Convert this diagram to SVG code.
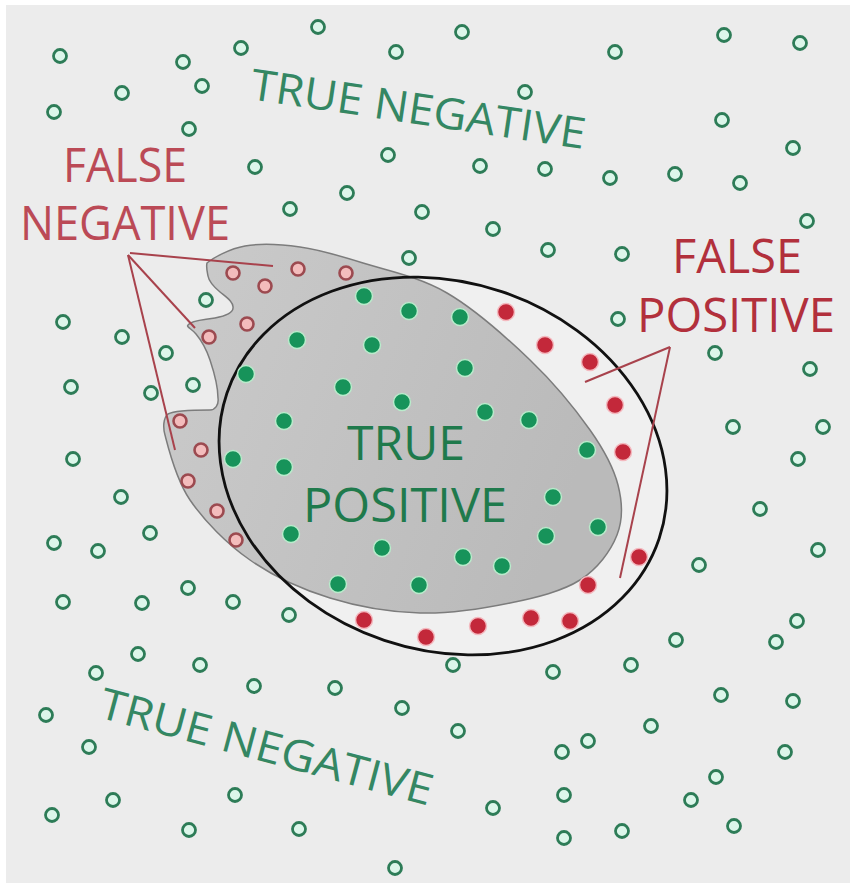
<svg xmlns="http://www.w3.org/2000/svg" width="850" height="886" viewBox="0 0 850 886">
<style>
.tn{fill:#dcf6ea;stroke:#2d7c57;stroke-width:2.8}
.fn{fill:#f3bcbc;stroke:#9c4a50;stroke-width:2.6}
.tp{fill:#17935a;stroke:#b9ebcb;stroke-width:1.5}
.fp{fill:#c3283a;stroke:#f4b9bf;stroke-width:1.5}
.lab{font-family:"Open Sans","Liberation Sans",sans-serif;font-size:47px}
.ptr{stroke:#a8424c;stroke-width:2;fill:none}
</style>
<defs>
<linearGradient id="blobg" x1="0" y1="0" x2="1" y2="0.3">
<stop offset="0" stop-color="#cbcbcb"/>
<stop offset="1" stop-color="#bababa"/>
</linearGradient>
</defs>
<rect x="0" y="0" width="850" height="886" fill="#ffffff"/>
<rect x="6" y="5" width="844" height="878" fill="#ececec"/>
<g id="ellipse-fill">
<ellipse cx="443" cy="466" rx="228" ry="184" transform="rotate(18.6 443 466)" fill="#f0f0f0"/>
</g>
<g id="blob">
<path d="M207,263 C213,258 229.5,248.7 245,246 C260.5,243.3 280.3,244.2 300,247 C319.7,249.8 338.5,255.3 363,263 C387.5,270.7 419.2,276.8 447,293 C474.8,309.2 506.2,337.2 530,360 C553.8,382.8 575.3,409.2 590,430 C604.7,450.8 613.5,467.5 618,485 C622.5,502.5 623.3,519.2 617,535 C610.8,550.8 597.8,568.7 580,580 C562.2,591.3 536.7,597.5 510,603 C483.3,608.5 450,613.8 420,613 C390,612.2 358.3,606.8 330,598 C301.7,589.2 273.3,576.3 250,560 C226.7,543.7 204.2,520.8 190,500 C175.8,479.2 168.7,449.3 165,435 C163,428 163,418 168,414 C175,410 195,410 210,410 C215,410 219,405 218,398 C218,385 214,372 210,360 C206,348 201,340 196,334 C192,329 186,327 188,325 C192,320 205,320 215,318 C225,316 233,313 233,308 C234,302 226,297 220,292 C214,287 209,282 208,276 C207,271 206,267 207,263 Z" fill="url(#blobg)" stroke="#7c7c7c" stroke-width="1.5"/>
</g>
<g id="ellipse">
<ellipse cx="443" cy="466" rx="228" ry="184" transform="rotate(18.6 443 466)" fill="none" stroke="#111111" stroke-width="2.8"/>
</g>
<g id="true-negatives">
<circle class="tn" cx="60" cy="56" r="6.5"/><circle class="tn" cx="122" cy="93" r="6.5"/><circle class="tn" cx="54" cy="112" r="6.5"/><circle class="tn" cx="183" cy="62" r="6.5"/><circle class="tn" cx="202" cy="86" r="6.5"/><circle class="tn" cx="189" cy="129" r="6.5"/><circle class="tn" cx="241" cy="48" r="6.5"/><circle class="tn" cx="318" cy="27" r="6.5"/><circle class="tn" cx="396" cy="52" r="6.5"/><circle class="tn" cx="462" cy="32" r="6.5"/><circle class="tn" cx="525" cy="92" r="6.5"/><circle class="tn" cx="615" cy="52" r="6.5"/><circle class="tn" cx="724" cy="35" r="6.5"/><circle class="tn" cx="800" cy="43" r="6.5"/><circle class="tn" cx="388" cy="155" r="6.5"/><circle class="tn" cx="255" cy="167" r="6.5"/><circle class="tn" cx="347" cy="193" r="6.5"/><circle class="tn" cx="290" cy="209" r="6.5"/><circle class="tn" cx="422" cy="212" r="6.5"/><circle class="tn" cx="409" cy="258" r="6.5"/><circle class="tn" cx="722" cy="120" r="6.5"/><circle class="tn" cx="793" cy="148" r="6.5"/><circle class="tn" cx="480" cy="166" r="6.5"/><circle class="tn" cx="545" cy="169" r="6.5"/><circle class="tn" cx="610" cy="178" r="6.5"/><circle class="tn" cx="675" cy="174" r="6.5"/><circle class="tn" cx="740" cy="183" r="6.5"/><circle class="tn" cx="807" cy="221" r="6.5"/><circle class="tn" cx="493" cy="229" r="6.5"/><circle class="tn" cx="548" cy="250" r="6.5"/><circle class="tn" cx="622" cy="254" r="6.5"/><circle class="tn" cx="618" cy="319" r="6.5"/><circle class="tn" cx="715" cy="353" r="6.5"/><circle class="tn" cx="810" cy="369" r="6.5"/><circle class="tn" cx="733" cy="427" r="6.5"/><circle class="tn" cx="823" cy="427" r="6.5"/><circle class="tn" cx="798" cy="459" r="6.5"/><circle class="tn" cx="760" cy="509" r="6.5"/><circle class="tn" cx="818" cy="550" r="6.5"/><circle class="tn" cx="699" cy="565" r="6.5"/>
<circle class="tn" cx="206" cy="300" r="6.5"/><circle class="tn" cx="63" cy="322" r="6.5"/><circle class="tn" cx="122" cy="337" r="6.5"/><circle class="tn" cx="166" cy="353" r="6.5"/><circle class="tn" cx="71" cy="387" r="6.5"/><circle class="tn" cx="151" cy="393" r="6.5"/><circle class="tn" cx="193" cy="385" r="6.5"/><circle class="tn" cx="73" cy="459" r="6.5"/><circle class="tn" cx="121" cy="497" r="6.5"/><circle class="tn" cx="150" cy="533" r="6.5"/><circle class="tn" cx="54" cy="543" r="6.5"/><circle class="tn" cx="98" cy="551" r="6.5"/>
<circle class="tn" cx="63" cy="602" r="6.5"/><circle class="tn" cx="142" cy="603" r="6.5"/><circle class="tn" cx="188" cy="588" r="6.5"/><circle class="tn" cx="233" cy="602" r="6.5"/><circle class="tn" cx="289" cy="615" r="6.5"/><circle class="tn" cx="138" cy="654" r="6.5"/><circle class="tn" cx="96" cy="673" r="6.5"/><circle class="tn" cx="200" cy="665" r="6.5"/><circle class="tn" cx="254" cy="686" r="6.5"/><circle class="tn" cx="335" cy="688" r="6.5"/><circle class="tn" cx="402" cy="708" r="6.5"/><circle class="tn" cx="46" cy="715" r="6.5"/><circle class="tn" cx="89" cy="747" r="6.5"/><circle class="tn" cx="235" cy="795" r="6.5"/><circle class="tn" cx="113" cy="800" r="6.5"/><circle class="tn" cx="52" cy="815" r="6.5"/><circle class="tn" cx="189" cy="830" r="6.5"/><circle class="tn" cx="299" cy="829" r="6.5"/><circle class="tn" cx="395" cy="868" r="6.5"/>
<circle class="tn" cx="797" cy="621" r="6.5"/><circle class="tn" cx="776" cy="642" r="6.5"/><circle class="tn" cx="676" cy="640" r="6.5"/><circle class="tn" cx="631" cy="665" r="6.5"/><circle class="tn" cx="553" cy="672" r="6.5"/><circle class="tn" cx="453" cy="665" r="6.5"/><circle class="tn" cx="721" cy="695" r="6.5"/><circle class="tn" cx="793" cy="701" r="6.5"/><circle class="tn" cx="651" cy="726" r="6.5"/><circle class="tn" cx="458" cy="731" r="6.5"/><circle class="tn" cx="588" cy="741" r="6.5"/><circle class="tn" cx="562" cy="752" r="6.5"/><circle class="tn" cx="785" cy="752" r="6.5"/><circle class="tn" cx="716" cy="777" r="6.5"/><circle class="tn" cx="691" cy="800" r="6.5"/><circle class="tn" cx="493" cy="808" r="6.5"/><circle class="tn" cx="564" cy="795" r="6.5"/><circle class="tn" cx="734" cy="826" r="6.5"/><circle class="tn" cx="622" cy="831" r="6.5"/><circle class="tn" cx="564" cy="838" r="6.5"/>
</g>
<g id="false-negatives">
<circle class="fn" cx="233" cy="273" r="6.5"/><circle class="fn" cx="265" cy="286" r="6.5"/><circle class="fn" cx="298" cy="269" r="6.5"/><circle class="fn" cx="346" cy="273" r="6.5"/><circle class="fn" cx="209" cy="337" r="6.5"/><circle class="fn" cx="247" cy="324" r="6.5"/><circle class="fn" cx="180" cy="421" r="6.5"/><circle class="fn" cx="201" cy="450" r="6.5"/><circle class="fn" cx="188" cy="481" r="6.5"/><circle class="fn" cx="217" cy="511" r="6.5"/><circle class="fn" cx="236" cy="540" r="6.5"/>
</g>
<g id="true-positives">
<circle class="tp" cx="364" cy="296" r="8.5"/><circle class="tp" cx="409" cy="311" r="8.5"/><circle class="tp" cx="460" cy="317" r="8.5"/><circle class="tp" cx="297" cy="340" r="8.5"/><circle class="tp" cx="372" cy="345" r="8.5"/><circle class="tp" cx="465" cy="368" r="8.5"/><circle class="tp" cx="246" cy="374" r="8.5"/><circle class="tp" cx="343" cy="387" r="8.5"/><circle class="tp" cx="402" cy="402" r="8.5"/><circle class="tp" cx="485" cy="412" r="8.5"/><circle class="tp" cx="529" cy="420" r="8.5"/><circle class="tp" cx="284" cy="421" r="8.5"/><circle class="tp" cx="587" cy="450" r="8.5"/><circle class="tp" cx="233" cy="459" r="8.5"/><circle class="tp" cx="284" cy="467" r="8.5"/><circle class="tp" cx="553" cy="497" r="8.5"/><circle class="tp" cx="598" cy="527" r="8.5"/><circle class="tp" cx="291" cy="534" r="8.5"/><circle class="tp" cx="546" cy="536" r="8.5"/><circle class="tp" cx="382" cy="548" r="8.5"/><circle class="tp" cx="463" cy="557" r="8.5"/><circle class="tp" cx="502" cy="566" r="8.5"/><circle class="tp" cx="338" cy="584" r="8.5"/><circle class="tp" cx="419" cy="585" r="8.5"/>
</g>
<g id="false-positives">
<circle class="fp" cx="506" cy="312" r="8.5"/><circle class="fp" cx="545" cy="345" r="8.5"/><circle class="fp" cx="590" cy="362" r="8.5"/><circle class="fp" cx="615" cy="405" r="8.5"/><circle class="fp" cx="623" cy="452" r="8.5"/><circle class="fp" cx="639" cy="557" r="8.5"/><circle class="fp" cx="588" cy="585" r="8.5"/><circle class="fp" cx="570" cy="621" r="8.5"/><circle class="fp" cx="531" cy="618" r="8.5"/><circle class="fp" cx="478" cy="626" r="8.5"/><circle class="fp" cx="426" cy="637" r="8.5"/><circle class="fp" cx="364" cy="620" r="8.5"/>
</g>
<g id="connectors">
<line class="ptr" x1="130" y1="253" x2="273" y2="266"/>
<line class="ptr" x1="128" y1="255" x2="195" y2="328"/>
<line class="ptr" x1="128" y1="255" x2="175" y2="450"/>
<line class="ptr" x1="670" y1="347" x2="585" y2="382"/>
<line class="ptr" x1="670" y1="347" x2="620" y2="578"/>
</g>
<g id="label-true-negative-top">
<text class="lab" transform="translate(249,99) rotate(8.5)" fill="#348763" textLength="338" lengthAdjust="spacingAndGlyphs" style="font-size:43px">TRUE NEGATIVE</text>
</g>
<g id="label-true-negative-bottom">
<text class="lab" transform="translate(97,717) rotate(15)" fill="#348763" textLength="343" lengthAdjust="spacingAndGlyphs" style="font-size:43px">TRUE NEGATIVE</text>
</g>
<g id="label-false-negative">
<text class="lab" x="125" y="182" text-anchor="middle" fill="#bb4a56" textLength="124" lengthAdjust="spacingAndGlyphs">FALSE</text>
<text class="lab" x="125" y="240" text-anchor="middle" fill="#bb4a56" textLength="210" lengthAdjust="spacingAndGlyphs">NEGATIVE</text>
</g>
<g id="label-false-positive">
<text class="lab" x="737" y="273" text-anchor="middle" fill="#b2303c" textLength="130" lengthAdjust="spacingAndGlyphs">FALSE</text>
<text class="lab" x="736" y="332" text-anchor="middle" fill="#b2303c" textLength="198" lengthAdjust="spacingAndGlyphs">POSITIVE</text>
</g>
<g id="label-true-positive">
<text class="lab" x="406" y="460" text-anchor="middle" fill="#1f7a4c" textLength="118" lengthAdjust="spacingAndGlyphs">TRUE</text>
<text class="lab" x="405" y="522" text-anchor="middle" fill="#1f7a4c" textLength="204" lengthAdjust="spacingAndGlyphs">POSITIVE</text>
</g>
</svg>
